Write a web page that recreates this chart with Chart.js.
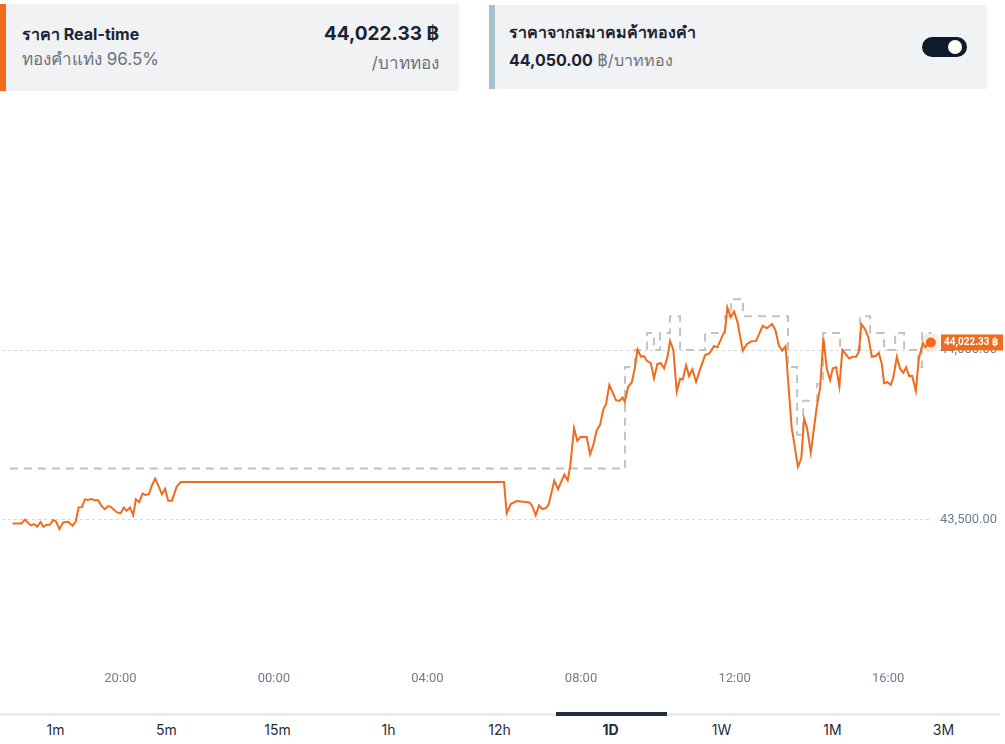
<!DOCTYPE html>
<html>
<head>
<meta charset="utf-8">
<script src="https://cdn.jsdelivr.net/npm/chart.js@4.4.1/dist/chart.umd.min.js"></script>
<style>
  body { margin: 0; width: 1005px; height: 744px; background: #fff; font-family: "Inter", "Noto Sans", sans-serif; position: relative; overflow: hidden; }
  .card { position: absolute; top: 4px; height: 87px; background: #f1f2f4; box-sizing: border-box; }
  #cardLeft { left: 0; width: 459px; border-left: 6px solid #f26b1d; }
  #cardRight { left: 489px; width: 498px; border-left: 6px solid #a6c0cd; top: 5px; height: 84px; }
  .title { position: absolute; font-weight: 700; font-size: 16px; color: #1b2433; }
  .sub { position: absolute; font-size: 17px; color: #6b717b; }
  .big { position: absolute; font-weight: 700; font-size: 19px; color: #1b2433; right: 20px; }
  .toggle { position: absolute; left: 427px; top: 32px; width: 45px; height: 20px; border-radius: 10px; background: #0e1b2b; }
  .toggle div { position: absolute; right: 5px; top: 3px; width: 14px; height: 14px; border-radius: 7px; background: #fff; }
  #chartBox { position: absolute; left: 0; top: 96px; }
  #tabs { position: absolute; left: 0; top: 713px; width: 1000px; height: 3px; background: #ececec; }
  #tabs .active { position: absolute; left: 556px; width: 111px; height: 4px; top: -1px; background: #1f2d3e; }
  .tab { position: absolute; top: 721px; width: 111px; text-align: center; font-size: 14px; color: #1f2d3d; }
</style>
</head>
<body>
<div class="card" id="cardLeft">
  <div class="title" style="left:16px; top:18px;">ราคา Real-time</div>
  <div class="sub" style="left:16px; top:41px;">ทองคำแท่ง 96.5%</div>
  <div class="big" style="top:18px;">44,022.33 ฿</div>
  <div class="sub" style="right:20px; top:45px;">/บาททอง</div>
</div>
<div class="card" id="cardRight">
  <div class="title" style="left:14px; top:15px;">ราคาจากสมาคมค้าทองคำ</div>
  <div class="sub" style="left:14px; top:43px; font-size:16px;"><b style="color:#1b2433">44,050.00</b> ฿/บาททอง</div>
  <div class="toggle"><div></div></div>
</div>
<div id="chartBox"><canvas id="priceChart" width="1005" height="616"></canvas></div>
<div id="tabs"><div class="active"></div></div>

<script>
"use strict";

// time in minutes from 00:00 (negative = previous evening)
const realtimeMinutes = [
  -408.5, -394.5, -389.3, -379.9, -374.8, -370.1, -364.8, -360.1, -355.4, -350.2,
  -345.1, -340.8, -335.1, -329.4, -321.6, -314.7, -309.6, -305.3, -300.2, -295.5,
  -291.3, -285.0, -279.9, -274.7, -269.4, -264.2, -259.1, -254.9, -245.9, -239.7,
  -234.5, -230.3, -225.1, -220.0, -215.8, -210.6, -205.3, -200.6, -195.4, -190.7,
  -185.6, -180.3, -175.1, -170.0, -165.3, -159.5, -152.1, -145.9, 359.6, 363.8,
  370.1, 379.5, 389.8, 399.2, 403.4, 409.2, 414.3, 419.5, 425.3, 429.5,
  438.2, 444.0, 453.9, 459.2, 463.3, 469.1, 474.2, 479.5, 488.9, 494.1,
  499.2, 504.5, 509.7, 514.9, 519.1, 524.2, 529.5, 534.7, 539.9, 545.2,
  548.3, 553.9, 559.3, 564.0, 568.3, 573.8, 578.5, 582.7, 589.0, 594.1,
  599.3, 604.6, 609.8, 614.9, 619.1, 624.3, 629.6, 634.8, 639.0, 644.2,
  648.9, 654.0, 659.8, 666.1, 673.9, 680.6, 687.9, 693.1, 701.5, 705.1,
  708.7, 714.0, 719.2, 724.4, 732.8, 739.1, 745.3, 753.6, 764.1, 770.3,
  778.6, 783.8, 789.1, 794.3, 799.7, 809.1, 819.0, 824.3, 828.7, 833.3,
  839.1, 848.5, 853.7, 858.8, 864.1, 869.3, 873.5, 878.7, 883.8, 888.5,
  893.8, 899.0, 904.8, 910.0, 914.2, 918.2, 924.0, 929.2, 934.5, 941.2,
  945.4, 950.1, 953.7, 958.9, 964.2, 968.3, 973.6, 978.8, 983.9, 988.1,
  992.8, 997.5, 1003.3, 1008.0, 1014.2, 1018.3, 1023.0, 1026.7
];
const realtimePrices = [
  43488, 43488, 43499, 43482, 43486, 43478, 43492, 43478, 43484, 43484,
  43498, 43494, 43471, 43491, 43493, 43481, 43494, 43535, 43536, 43559,
  43557, 43560, 43556, 43556, 43539, 43530, 43539, 43537, 43521, 43518,
  43535, 43525, 43535, 43512, 43559, 43551, 43576, 43572, 43574, 43600,
  43620, 43598, 43574, 43590, 43555, 43555, 43596, 43610, 43610, 43518,
  43545, 43554, 43552, 43550, 43541, 43512, 43541, 43530, 43534, 43544,
  43614, 43589, 43632, 43615, 43660, 43769, 43732, 43744, 43743, 43692,
  43719, 43763, 43779, 43825, 43840, 43897, 43874, 43852, 43850, 43860,
  43847, 43892, 43904, 43946, 44001, 43980, 43982, 43968, 43962, 43916,
  43959, 43961, 43946, 43978, 44027, 44000, 43877, 43915, 43913, 43955,
  43923, 43943, 43906, 43943, 43985, 43990, 44012, 44008, 44044, 44057,
  44126, 44097, 44114, 44084, 43998, 44017, 44025, 44027, 44072, 44064,
  44077, 44059, 44014, 43998, 44011, 43773, 43655, 43680, 43797, 43770,
  43697, 43833, 43888, 44035, 43946, 43911, 43946, 43949, 43892, 44000,
  43988, 43975, 43980, 43980, 43995, 44076, 44061, 44037, 43980, 43983,
  43992, 43959, 43902, 43905, 43897, 43921, 43980, 43944, 43933, 43949,
  43923, 43924, 43879, 43975, 44020, 44008, 44020, 44022.33
];

// gold traders association price, stepped
const assocMinutes = [
  -412.8, 548.8, 564.4, 583.2, 594.1, 603.5, 619.1, 634.8, 673.9, 705.1,
  714.5, 733.3, 803.6, 817.7, 827.1, 849.0, 858.4, 885.0, 916.3, 931.9,
  953.7, 970.9, 985.0, 1006.9, 1013.1, 1027.0
];
const assocPrices = [
  43650, 43950, 44000, 44050, 44000, 44050, 44100, 44000, 44050, 44100,
  44150, 44100, 43950, 43750, 43850, 43900, 44050, 44000, 44100, 44050,
  44000, 44050, 44000, 43950, 44050, 44050
];

const xTickMinutes = [-240, 0, 240, 480, 720, 960];
const yTickValues = [43500, 44000];
const tabLabels = ["1m", "5m", "15m", "1h", "12h", "1D", "1W", "1M", "3M"];

const orange = "#f26b1d";
const lastPrice = realtimePrices[realtimePrices.length - 1];
const lastMinute = realtimeMinutes[realtimeMinutes.length - 1];

// tabs under the chart
tabLabels.forEach(function (t, i) {
  let el = document.createElement("div");
  el.className = "tab";
  el.style.left = (i * 111) + "px";
  el.textContent = t;
  if (t === "1D") el.style.fontWeight = "700";
  document.body.appendChild(el);
});

function fmtTime(m) {
  let h = Math.round(((m / 60) + 24) % 24);
  return String(h).padStart(2, "0") + ":00";
}

function fmtPrice(v) {
  return v.toLocaleString("en-US", { minimumFractionDigits: 2, maximumFractionDigits: 2 });
}

// orange label at the right with the last price
const lastBadge = {
  id: "lastBadge",
  afterDraw(chart) {
    const ctx = chart.ctx;
    const y = chart.scales.y.getPixelForValue(lastPrice);
    const x0 = chart.chartArea.right + 10;
    ctx.save();
    ctx.fillStyle = orange;
    ctx.fillRect(x0, y - 8, 62, 16);
    ctx.fillStyle = "#fff";
    ctx.font = "bold 10px Roboto, sans-serif";
    ctx.textBaseline = "middle";
    ctx.fillText(fmtPrice(lastPrice) + " ฿", x0 + 3, y + 0.5);
    ctx.restore();
  }
};

const realtimeData = realtimeMinutes.map((m, i) => ({ x: m, y: realtimePrices[i] }));
const assocData = assocMinutes.map((m, i) => ({ x: m, y: assocPrices[i] }));

new Chart(document.getElementById("priceChart"), {
  type: "line",
  data: {
    datasets: [
      {
        label: "last",
        data: [{ x: lastMinute, y: lastPrice }],
        pointRadius: 5,
        pointBackgroundColor: orange,
        pointBorderColor: "rgba(242,107,29,0.13)",
        pointBorderWidth: 10,
        showLine: false,
        clip: false
      },
      {
        label: "realtime",
        data: realtimeData,
        borderColor: orange,
        borderWidth: 2,
        pointRadius: 0,
        tension: 0
      },
      {
        label: "assoc",
        data: assocData,
        borderColor: "#c2c2c2",
        borderWidth: 2,
        borderDash: [8, 6],
        pointRadius: 0,
        stepped: "before"
      }
    ]
  },
  options: {
    responsive: false,
    animation: false,
    devicePixelRatio: 1,
    layout: { autoPadding: false, padding: { top: 4, left: 2, right: 0, bottom: 0 } },
    plugins: { legend: { display: false }, tooltip: { enabled: false } },
    scales: {
      x: {
        type: "linear",
        min: -425,
        max: 1027,
        grid: { display: false, drawTicks: false },
        border: { display: false },
        ticks: {
          color: "#6f7d90",
          font: { size: 13, family: "Roboto, sans-serif" },
          padding: 11,
          maxRotation: 0,
          autoSkip: false,
          callback: (v) => fmtTime(v)
        },
        afterBuildTicks: (scale) => { scale.ticks = xTickMinutes.map(v => ({ value: v })); },
        afterFit: (scale) => { scale.height = 52; }
      },
      y: {
        position: "right",
        min: 43084.5,
        max: 44738.4,
        grid: { color: "#d6d6d6", drawTicks: false },
        border: { display: false, dash: [3, 3] },
        ticks: {
          color: "#6f7d90",
          font: { size: 13, family: "Roboto, sans-serif" },
          padding: 9,
          callback: (v) => fmtPrice(v)
        },
        afterBuildTicks: (scale) => { scale.ticks = yTickValues.map(v => ({ value: v })); },
        afterFit: (scale) => {
          scale.width = 74;
          scale.paddingTop = 0;
          scale.paddingBottom = 0;
        }
      }
    }
  },
  plugins: [lastBadge]
});
</script>
</body>
</html>
